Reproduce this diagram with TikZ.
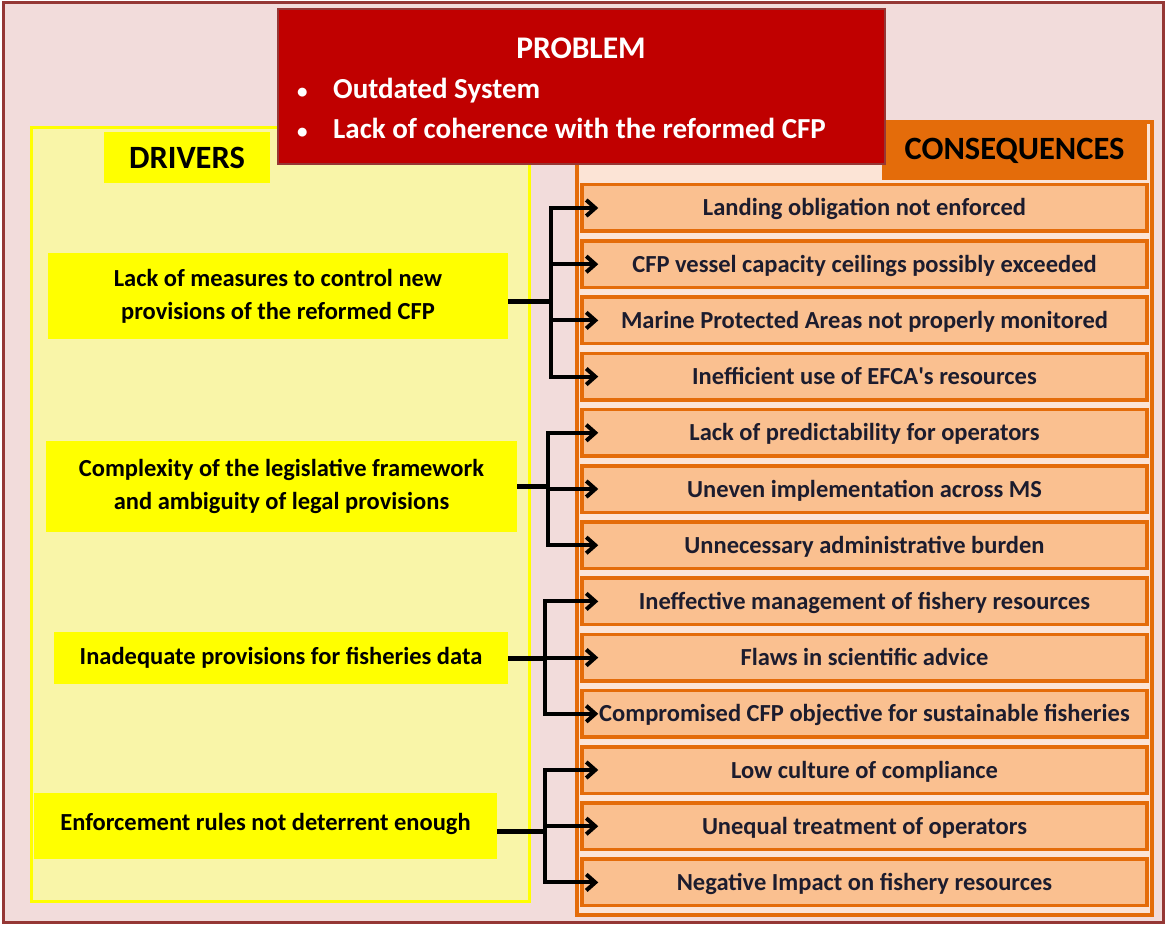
\documentclass[tikz,border=0pt]{standalone}
\usepackage{fontspec}
\setmainfont{Carlito}
\usetikzlibrary{positioning}
\usetikzlibrary{arrows.meta}

\definecolor{framepink}{HTML}{F2DCDB}
\definecolor{framered}{HTML}{953735}
\definecolor{probred}{HTML}{C00000}
\definecolor{drvpale}{HTML}{F9F5A8}
\definecolor{drvyellow}{HTML}{FFFF00}
\definecolor{consorange}{HTML}{E46C0A}
\definecolor{consfill}{HTML}{FAC090}
\definecolor{conspanel}{HTML}{FCE4D6}
\definecolor{constext}{HTML}{1C1C2E}

\begin{document}
\begin{tikzpicture}[x=1pt, y=-1pt, node distance=6.2pt,
	font=\fontsize{24.5}{29}\selectfont\bfseries,
	drv/.style={fill=drvyellow, align=center, inner sep=0pt,
		font=\fontsize{24.5}{33}\selectfont\bfseries},
	cons/.style={draw=consorange, fill=consfill, line width=3.5pt, text=constext,
		minimum width=565pt, minimum height=46.5pt, inner sep=0pt,
		text height=22pt, text depth=6pt},
	head/.style={font=\fontsize{32.5}{38}\selectfont\bfseries, inner sep=0pt},
	ptext/.style={text=white, inner sep=0pt, font=\fontsize{29}{34}\selectfont\bfseries},
	stem/.style={line width=5pt},
	arr/.style={line width=4pt, {Straight Barb[length=9pt,width=16pt]}-{Straight Barb[length=9pt,width=16pt]}},
	arrone/.style={line width=4pt, -{Straight Barb[length=9pt,width=16pt]}}
	]
	\useasboundingbox (0,0) rectangle (1166,925);

	% frame and the two panels
	\draw[draw=framered, fill=framepink, line width=3pt] (3,3) rectangle (1163,922);
	\draw[draw=drvyellow, fill=drvpale, line width=3pt] (31,128) rectangle (529,901);
	\draw[draw=consorange, fill=conspanel, line width=4pt] (577,122) rectangle (1152,915);

	\node[head, fill=drvyellow, minimum width=166pt, minimum height=51pt] (drvhead) at (187,157.5) {DRIVERS};
	\node[head, fill=consorange, minimum width=265pt, minimum height=58pt] (conshead) at (1014.5,151) {CONSEQUENCES};

	% problem
	\node[draw=framered, fill=probred, line width=2.5pt, minimum width=607pt, minimum height=155pt] (prob) at (581.5,86.5) {};
	\node[ptext, font=\fontsize{31.5}{36}\selectfont\bfseries] (ptitle) at (581,48) {PROBLEM};
	\node[ptext, anchor=west] (pb1) at (297,91) {\makebox[36pt][l]{\fontsize{21}{21}\selectfont\textbullet}Outdated System};
	\node[ptext, anchor=west] (pb2) at (297,128) {\makebox[36pt][l]{\fontsize{21}{21}\selectfont\textbullet}Lack of coherence with the reformed CFP};

	% drivers
	\node[drv, minimum width=460pt, minimum height=86pt] (d1) at (278,296) {Lack of measures to control new\\provisions of the reformed CFP};
	\node[drv, minimum width=471pt, minimum height=91pt] (d2) at (281.5,486.5) {Complexity of the legislative framework\\and ambiguity of legal provisions};
	\node[drv, minimum width=454pt, minimum height=52pt] (d3) at (281,658) {Inadequate provisions for fisheries data};
	\node[drv, minimum width=463pt, minimum height=66pt] (d4) at (265.5,826) {\raisebox{8pt}{Enforcement rules not deterrent enough}};

	% consequences
	\node[cons] (c1) at (864.5,208) {Landing obligation not enforced};
	\node[cons] (c2) [below=of c1] {CFP vessel capacity ceilings possibly exceeded};
	\node[cons] (c3) [below=of c2] {Marine Protected Areas not properly monitored};
	\node[cons] (c4) [below=of c3] {Inefficient use of EFCA\textquotesingle s resources};
	\node[cons] (c5) [below=of c4] {Lack of predictability for operators};
	\node[cons] (c6) [below=of c5] {Uneven implementation across MS};
	\node[cons] (c7) [below=of c6] {Unnecessary administrative burden};
	\node[cons] (c8) [below=of c7] {Ineffective management of fishery resources};
	\node[cons] (c9) [below=of c8] {Flaws in scientific advice};
	\node[cons] (c10) [below=of c9] {Compromised CFP objective for sustainable fisheries};
	\node[cons] (c11) [below=of c10] {Low culture of compliance};
	\node[cons] (c12) [below=of c11] {Unequal treatment of operators};
	\node[cons] (c13) [below=of c12] {Negative Impact on fishery resources};

	\coordinate (j1) at (551,0);
	\coordinate (j2) at (548,0);
	\coordinate (j3) at (545,0);
	\coordinate (j4) at (545,0);

	% connectors
	\draw[stem] ([yshift=-5pt]d1.east) -- ([yshift=-5pt]d1.east -| j1);
	\draw[arr] ([xshift=18pt]c1.west) -- (c1.west -| j1) -- (c4.west -| j1) -- ([xshift=18pt]c4.west);
	\draw[arrone] (c2.west -| j1) -- ([xshift=18pt]c2.west);
	\draw[arrone] (c3.west -| j1) -- ([xshift=18pt]c3.west);

	\draw[stem] (d2.east) -- (d2.east -| j2);
	\draw[arr] ([xshift=18pt]c5.west) -- (c5.west -| j2) -- (c7.west -| j2) -- ([xshift=18pt]c7.west);
	\draw[arrone] (c6.west -| j2) -- ([xshift=18pt]c6.west);

	\draw[stem] (d3.east) -- (d3.east -| j3);
	\draw[arr] ([xshift=18pt]c8.west) -- (c8.west -| j3) -- (c10.west -| j3) -- ([xshift=18pt]c10.west);
	\draw[arrone] (c9.west -| j3) -- ([xshift=18pt]c9.west);

	\draw[stem] ([yshift=-5pt]d4.east) -- ([yshift=-5pt]d4.east -| j4);
	\draw[arr] ([xshift=18pt]c11.west) -- (c11.west -| j4) -- (c13.west -| j4) -- ([xshift=18pt]c13.west);
	\draw[arrone] (c12.west -| j4) -- ([xshift=18pt]c12.west);
\end{tikzpicture}
\end{document}
